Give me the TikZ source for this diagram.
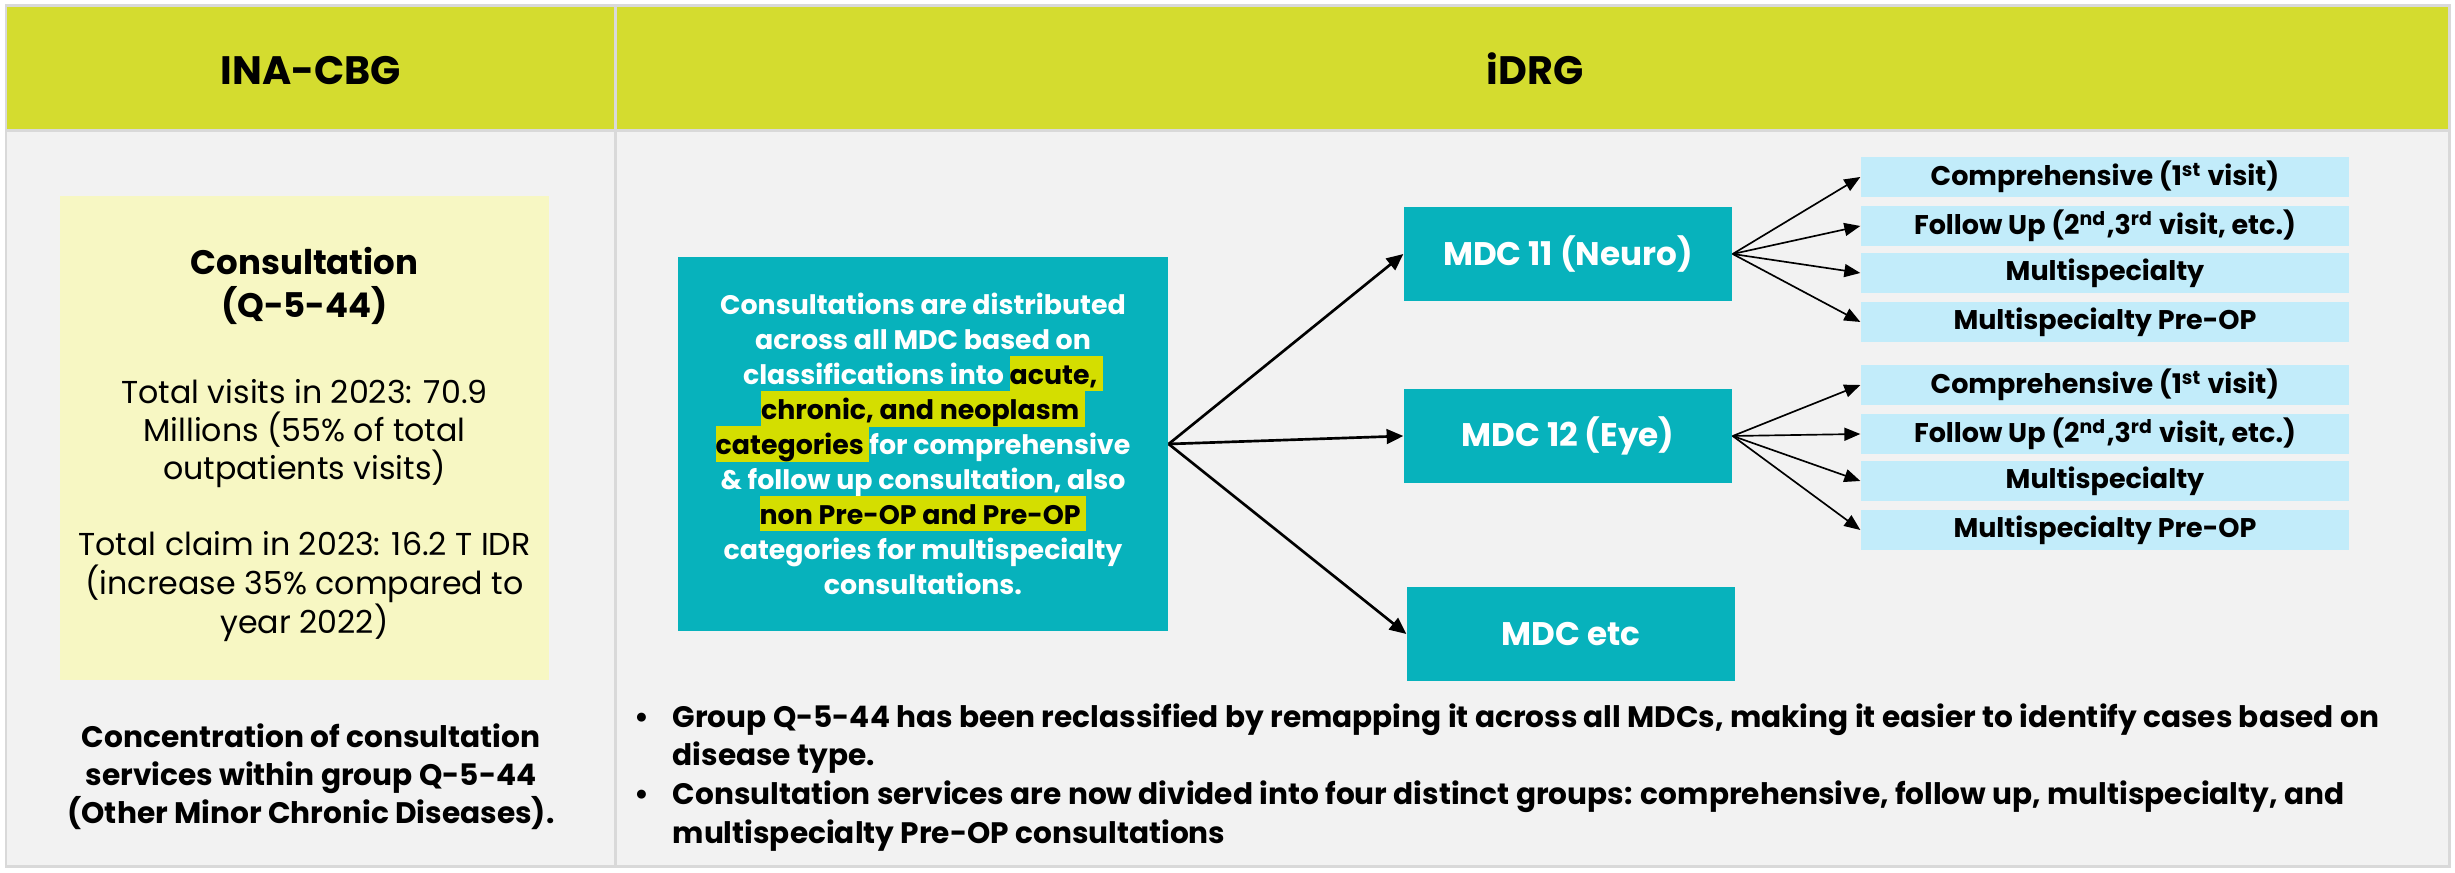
\documentclass[tikz,border=0pt]{standalone}
\usepackage{fontspec}
\setmainfont{Poppins}
\usetikzlibrary{arrows.meta}
\definecolor{hdr}{HTML}{D4DC2F}
\definecolor{bodybg}{HTML}{F2F2F2}
\definecolor{gridc}{HTML}{D9D9D9}
\definecolor{pale}{HTML}{F7F7C3}
\definecolor{tealbox}{HTML}{07B2BC}
\definecolor{lblue}{HTML}{C2ECFA}
\definecolor{hl}{HTML}{D4DE00}
\newcommand\hlt[1]{{\setlength{\fboxsep}{0pt}\colorbox{hl}{\rule[-1.89pt]{0pt}{10.5pt}\color{black}#1}}}
\begin{document}
\begin{tikzpicture}[x=0.3pt,y=-0.3pt,
  ln/.style={anchor=base,inner sep=0pt},
  lnw/.style={anchor=base west,inner sep=0pt},
  hfont/.style={font=\fontsize{11.9}{14}\selectfont\bfseries},
  tealtxt/.style={ln,text=white,font=\fontsize{8.05}{10.5}\selectfont\bfseries},
  regtxt/.style={ln,font=\fontsize{9.5}{11}\selectfont},
  conc/.style={ln,font=\fontsize{8.9}{11}\selectfont\bfseries},
  bul/.style={lnw,font=\fontsize{8.88}{11}\selectfont\bfseries},
  mdc/.style={fill=tealbox,text=white,font=\fontsize{9.8}{12}\selectfont\bfseries,
    minimum width=98.4pt,minimum height=28.2pt,inner sep=0pt},
  sub/.style={fill=lblue,font=\fontsize{8.1}{10}\selectfont\bfseries,
    minimum width=146.4pt,minimum height=12pt,inner sep=0pt},
  arr/.style={-{Triangle[length=5pt,width=4.4pt]},line width=0.8pt},
  tarr/.style={-{Triangle[length=4.8pt,width=3.9pt]},line width=0.5pt}]
\useasboundingbox (0,0) rectangle (2455,873);
\fill[white] (0,0) rectangle (2455,873);
% frame and header
\fill[bodybg] (6,6) rectangle (2449,867);
\fill[hdr] (6,6) rectangle (2449,131);
\draw[gridc,line width=0.9pt] (6,6) rectangle (2449,867);
\draw[gridc,line width=0.9pt] (6,131) -- (2449,131);
\draw[gridc,line width=0.9pt] (615,6) -- (615,867);
\node[ln,hfont] (h1) at (311,85) {INA-CBG};
\node[ln,hfont] (h2) at (1535,85) {iDRG};
% left column
\node[fill=pale,minimum width=146.7pt,minimum height=145.2pt,inner sep=0pt] (ybox) at (304.5,438) {};
\node[ln,font=\fontsize{10.2}{13}\selectfont\bfseries] (y1) at (304.5,274.5) {Consultation};
\node[ln,font=\fontsize{10.2}{13}\selectfont\bfseries] (y2) at (304.5,318) {(Q-5-44)};
\node[regtxt] (y3) at (304.5,403.6) {Total visits in 2023: 70.9};
\node[regtxt] (y4) at (304.5,441.4) {Millions (55\% of total};
\node[regtxt] (y5) at (304.5,479.6) {outpatients visits)};
\node[regtxt] (y6) at (304.5,555.7) {Total claim in 2023: 16.2 T IDR};
\node[regtxt] (y7) at (304.5,595) {(increase 35\% compared to};
\node[regtxt] (y8) at (304.5,634) {year 2022)};
\node[conc] (c1) at (311,748) {Concentration of consultation};
\node[conc] (c2) at (311,786) {services within group Q-5-44};
\node[conc] (c3) at (311,824) {(Other Minor Chronic Diseases).};
% teal box
\node[fill=tealbox,minimum width=147pt,minimum height=112.2pt,inner sep=0pt] (tbox) at (923,444) {};
\node[tealtxt] (t1) at (923,315) {Consultations are distributed};
\node[tealtxt] (t2) at (923,350) {across all MDC based on};
\node[tealtxt] (t3) at (923,385) {classifications into \hlt{acute,\ }};
\node[tealtxt] (t4) at (923,420) {\hlt{chronic, and neoplasm\ }};
\node[tealtxt] (t5) at (923,455) {\hlt{categories\ }for comprehensive};
\node[tealtxt] (t6) at (923,490) {\& follow up consultation, also};
\node[tealtxt] (t7) at (923,525) {\hlt{non Pre-OP and Pre-OP\ }};
\node[tealtxt] (t8) at (923,560) {categories for multispecialty};
\node[tealtxt] (t9) at (923,595) {consultations.};
% MDC boxes
\node[mdc] (m11) at (1568,254) {MDC 11 (Neuro)};
\node[mdc] (m12) at (1568,436) {MDC 12 (Eye)};
\node[mdc] (mx) at (1571,634) {MDC etc};
% sub boxes
\node[sub] (s1) at (2105,177) {Comprehensive (1\textsuperscript{st} visit)};
\node[sub] (s2) at (2105,226) {Follow Up (2\textsuperscript{nd},3\textsuperscript{rd} visit, etc.)};
\node[sub] (s3) at (2105,273) {Multispecialty};
\node[sub] (s4) at (2105,322) {Multispecialty Pre-OP};
\node[sub] (s5) at (2105,385) {Comprehensive (1\textsuperscript{st} visit)};
\node[sub] (s6) at (2105,434) {Follow Up (2\textsuperscript{nd},3\textsuperscript{rd} visit, etc.)};
\node[sub] (s7) at (2105,481) {Multispecialty};
\node[sub] (s8) at (2105,530) {Multispecialty Pre-OP};
% arrows
\draw[arr] (tbox.east) -- (m11.west);
\draw[arr] (tbox.east) -- (m12.west);
\draw[arr] (tbox.east) -- (mx.west);
\foreach \s in {s1,s2,s3,s4} \draw[tarr] (m11.east) -- (\s.west);
\foreach \s in {s5,s6,s7,s8} \draw[tarr] (m12.east) -- (\s.west);
% bullets
\node[bul] (d1) at (634,727.5) {•};
\node[bul] (d2) at (634,805) {•};
\node[bul] (b1) at (672,727.5) {Group Q-5-44 has been reclassified by remapping it across all MDCs, making it easier to identify cases based on};
\node[bul] (b2) at (672,766) {disease type.};
\node[bul] (b3) at (672,805) {Consultation services are now divided into four distinct groups: comprehensive, follow up, multispecialty, and};
\node[bul] (b4) at (672,844) {multispecialty Pre-OP consultations};
\end{tikzpicture}
\end{document}
